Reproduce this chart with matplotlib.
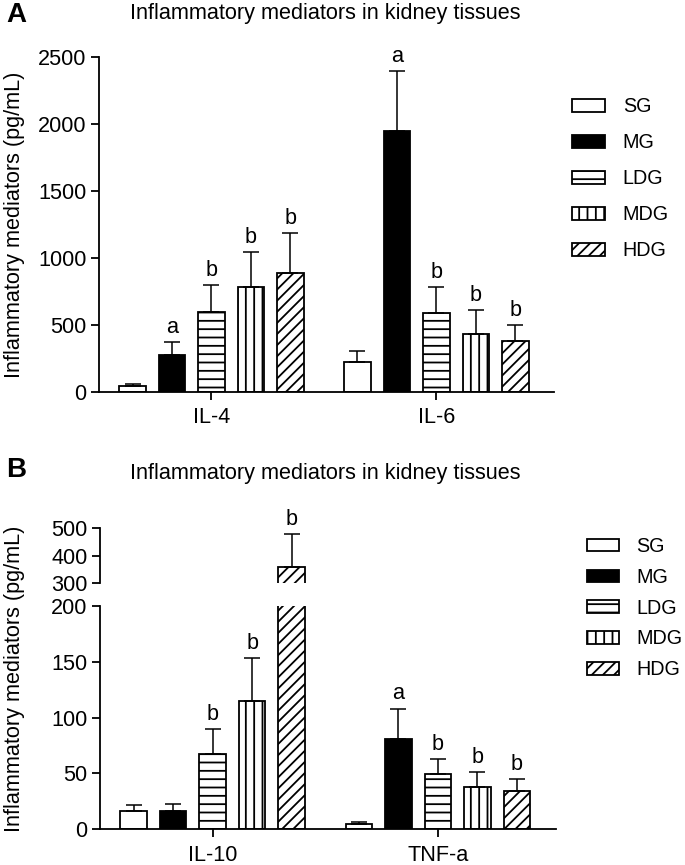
import matplotlib
matplotlib.use("Agg")
import matplotlib.pyplot as plt
import numpy as np

plt.rcParams["font.family"] = ["Liberation Sans", "DejaVu Sans"]
plt.rcParams["hatch.linewidth"] = 1.3
plt.rcParams["axes.linewidth"] = 1.3

groups = ["SG", "MG", "LDG", "MDG", "HDG"]
colors = ["white", "black", "white", "white", "white"]
hatches = ["", "", "--", "||", "///"]

# panel A
cyto_a = ["IL-4", "IL-6"]
mean_a = [[45, 276, 599, 786, 890],
          [220, 1951, 586, 431, 377]]
err_a = [[10, 92, 199, 257, 294],
         [86, 447, 194, 180, 124]]
sig_a = [["", "a", "b", "b", "b"],
         ["", "a", "b", "b", "b"]]

# panel B
cyto_b = ["IL-10", "TNF-a"]
mean_b = [[16.6, 16, 67, 114.8, 360],
          [4.7, 80.8, 49.5, 38.1, 34]]
err_b = [[5.1, 6.6, 22.4, 38.2, 116],
         [2.1, 27.2, 13.1, 13.2, 10.7]]
sig_b = [["", "", "b", "b", "b"],
         ["", "a", "b", "b", "b"]]

FS = 15.6
LFS = 14.2
W, H = 685, 865
group_gap = 5.7
bar_w = 0.67
xlim = (-2.85, 8.68)


def fx(px):
    return px / W


def fy(py):
    return 1 - py / H


def draw_bars(ax, means, errs, sigs, ylim_top=None):
    handles = []
    for g, (m, e, s) in enumerate(zip(means, errs, sigs)):
        for i in range(5):
            x = g * group_gap + (i - 2)
            b = ax.bar(x, m[i], width=bar_w, color=colors[i], edgecolor="black",
                       hatch=hatches[i], linewidth=1.3, zorder=2)
            if g == 0:
                handles.append(b.patches[0])
            ax.errorbar(x, m[i], yerr=[[0], [e[i]]], fmt="none", ecolor="black",
                        elinewidth=1.1, capsize=6, capthick=1.1, zorder=3)
            if s[i] and (ylim_top is None or m[i] + e[i] <= ylim_top):
                ax.annotate(s[i], (x, m[i] + e[i]), xytext=(0, 3),
                            textcoords="offset points", ha="center", va="bottom",
                            fontsize=FS)
    return handles


def style_axis(ax, cyto):
    ax.spines["top"].set_visible(False)
    ax.spines["right"].set_visible(False)
    ax.set_xlim(*xlim)
    ax.set_xticks([0, group_gap])
    ax.set_xticklabels(cyto)
    ax.tick_params(axis="both", labelsize=FS, width=1.3, length=6, direction="out")
    ax.tick_params(axis="x", pad=5)
    ax.tick_params(axis="y", pad=3)


fig = plt.figure(figsize=(W / 100, H / 100), dpi=100)

# ---- A ----
axA = fig.add_axes([fx(99), fy(391.7), fx(554 - 99), (391.7 - 57.3) / H])
hA = draw_bars(axA, mean_a, err_a, sig_a)
style_axis(axA, cyto_a)
axA.set_ylim(0, 2500)
axA.set_yticks([0, 500, 1000, 1500, 2000, 2500])
axA.legend(handles=hA, labels=groups, loc="upper left", frameon=False,
           bbox_to_anchor=(fx(571.7), fy(97.5)), bbox_transform=fig.transFigure,
           fontsize=LFS, borderpad=0, borderaxespad=0, handlelength=1.68,
           handleheight=0.66, handletextpad=0.91, labelspacing=0.86)
fig.text(fx(325), fy(13), "Inflammatory mediators in kidney tissues",
         ha="center", va="center", fontsize=FS)
fig.text(fx(16), fy(15), "A", ha="center", va="center", fontsize=20, fontweight="bold")
fig.text(fx(15), fy(224.5), "Inflammatory mediators (pg/mL)", rotation=90,
         ha="center", va="center", fontsize=FS)

# ---- B (broken axis) ----
axB = fig.add_axes([fx(100), fy(829.3), fx(555.7 - 100), (829.3 - 605.7) / H])
axBu = fig.add_axes([fx(100), fy(583.3), fx(555.7 - 100), (583.3 - 527.7) / H])
hB = draw_bars(axB, mean_b, err_b, sig_b, ylim_top=200)
style_axis(axB, cyto_b)
axB.set_ylim(0, 200)
axB.set_yticks([0, 50, 100, 150, 200])

draw_bars(axBu, mean_b, err_b, [["", "", "", "", "b"], ["", "", "", "", ""]])
style_axis(axBu, cyto_b)
axBu.set_ylim(300, 500)
axBu.set_yticks([300, 400, 500])
axBu.spines["bottom"].set_visible(False)
axBu.set_xticks([])
axBu.patch.set_alpha(0)
for a in axBu.texts:
    a.set_clip_on(False)

axB.legend(handles=hB, labels=groups, loc="upper left", frameon=False,
           bbox_to_anchor=(fx(586.7), fy(537)), bbox_transform=fig.transFigure,
           fontsize=LFS, borderpad=0, borderaxespad=0, handlelength=1.62,
           handleheight=0.61, handletextpad=0.91, labelspacing=0.6)
fig.text(fx(325), fy(473), "Inflammatory mediators in kidney tissues",
         ha="center", va="center", fontsize=FS)
fig.text(fx(16), fy(470), "B", ha="center", va="center", fontsize=20, fontweight="bold")
fig.text(fx(15), fy(678.5), "Inflammatory mediators (pg/mL)", rotation=90,
         ha="center", va="center", fontsize=FS)

fig.savefig("out.png", dpi=100)
